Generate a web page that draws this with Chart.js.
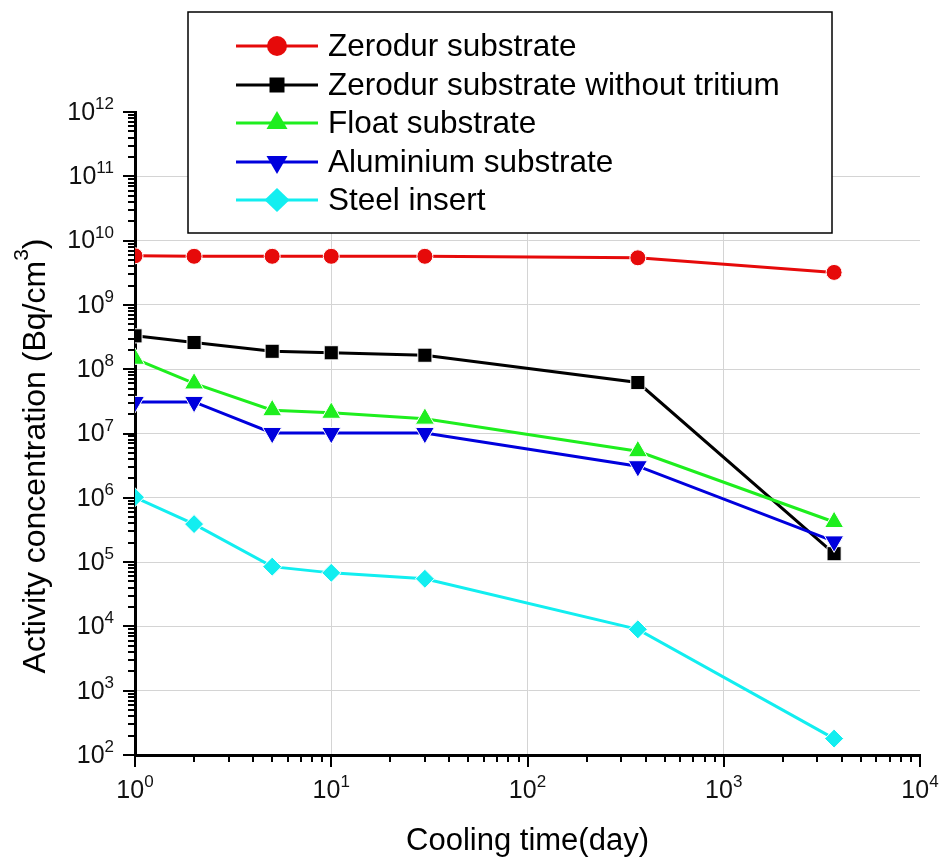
<!DOCTYPE html>
<html>
<head>
<meta charset="utf-8">
<script src="https://cdn.jsdelivr.net/npm/chart.js@4.4.1/dist/chart.umd.min.js"></script>
<style>
  html, body { margin: 0; padding: 0; background: #fff; }
  #wrap { width: 940px; height: 859px; }
</style>
</head>
<body>
<div id="wrap"><canvas id="chart" width="940" height="859"></canvas></div>
<script>
// ================================
// DATA
// ================================
var coolingDays = [1, 2, 5, 10, 30, 365, 3650];

var zerodur          = [5.8e9, 5.7e9, 5.7e9, 5.7e9, 5.7e9, 5.4e9, 3.2e9];
var zerodurNoTritium = [3.3e8, 2.6e8, 1.9e8, 1.8e8, 1.65e8, 6.2e7, 1.35e5];
var floatSubstrate   = [1.45e8, 6.0e7, 2.3e7, 2.1e7, 1.7e7, 5.3e6, 4.2e5];
var aluminium        = [3.1e7, 3.1e7, 1.02e7, 1.02e7, 1.02e7, 3.1e6, 2.1e5];
var steelInsert      = [1.02e6, 3.9e5, 8.5e4, 6.8e4, 5.5e4, 9.0e3, 1.8e2];

var seriesLabels = [
  "Zerodur substrate",
  "Zerodur substrate without tritium",
  "Float substrate",
  "Aluminium substrate",
  "Steel insert"
];

var xTickExponents = ["0", "1", "2", "3", "4"];
var yTickExponents = ["2", "3", "4", "5", "6", "7", "8", "9", "10", "11", "12"];

var FONT = "'Liberation Sans', Arial, sans-serif";

// all log ticks (1..9 x 10^k) between two exponents
function logTicks(lo, hi) {
  var out = [];
  for (var k = lo; k < hi; k++) {
    for (var m = 1; m < 10; m++) out.push(m * Math.pow(10, k));
  }
  out.push(Math.pow(10, hi));
  return out;
}
function isDecade(v) {
  var l = Math.log10(v);
  return Math.abs(l - Math.round(l)) < 1e-9;
}

// ================================
// PLUGIN: ticks, labels, y title, legend
// ================================
function drawMarker(ctx, style, x, y, s) {
  ctx.beginPath();
  if (style === "circle") {
    ctx.arc(x, y, s, 0, Math.PI * 2);
  } else if (style === "rect") {
    ctx.rect(x - s * 0.75, y - s * 0.75, s * 1.5, s * 1.5);
  } else if (style === "up") {
    ctx.moveTo(x, y - s * 1.2);
    ctx.lineTo(x + s * 1.05, y + s * 0.6);
    ctx.lineTo(x - s * 1.05, y + s * 0.6);
  } else if (style === "down") {
    ctx.moveTo(x, y + s * 1.2);
    ctx.lineTo(x + s * 1.05, y - s * 0.6);
    ctx.lineTo(x - s * 1.05, y - s * 0.6);
  } else {
    ctx.moveTo(x, y - s * 1.2);
    ctx.lineTo(x + s * 1.25, y);
    ctx.lineTo(x, y + s * 1.2);
    ctx.lineTo(x - s * 1.25, y);
  }
  ctx.closePath();
  ctx.fill();
}

var legendStyles = ["circle", "rect", "up", "down", "diamond"];

var decorPlugin = {
  id: "decor",
  afterDraw: function (chart) {
    var ctx = chart.ctx;
    var xs = chart.scales.x, ys = chart.scales.y;
    var area = chart.chartArea;
    ctx.save();

    // tick marks
    ctx.strokeStyle = "#000";
    ctx.lineWidth = 2;
    logTicks(0, 4).forEach(function (v) {
      var px = Math.round(xs.getPixelForValue(v));
      ctx.beginPath();
      ctx.moveTo(px, area.bottom);
      ctx.lineTo(px, area.bottom + (isDecade(v) ? 12 : 7));
      ctx.stroke();
    });
    logTicks(2, 12).forEach(function (v) {
      var py = Math.round(ys.getPixelForValue(v));
      ctx.beginPath();
      ctx.moveTo(area.left, py);
      ctx.lineTo(area.left - (isDecade(v) ? 12 : 7), py);
      ctx.stroke();
    });

    // tick labels 10^n
    ctx.fillStyle = "#111";
    var mainFont = "25px " + FONT, supFont = "17px " + FONT;
    xTickExponents.forEach(function (e) {
      var px = xs.getPixelForValue(Math.pow(10, +e));
      ctx.font = mainFont;
      var w1 = ctx.measureText("10").width;
      ctx.font = supFont;
      var w2 = ctx.measureText(e).width;
      var x0 = px - (w1 + w2) / 2;
      ctx.textAlign = "left";
      ctx.font = mainFont;
      ctx.textBaseline = "middle";
      ctx.fillText("10", x0, 791);
      ctx.font = supFont;
      ctx.textBaseline = "alphabetic";
      ctx.fillText(e, x0 + w1, 787);
    });
    yTickExponents.forEach(function (e) {
      var py = ys.getPixelForValue(Math.pow(10, +e));
      ctx.font = supFont;
      var w2 = ctx.measureText(e).width;
      ctx.textAlign = "right";
      ctx.textBaseline = "alphabetic";
      ctx.fillText(e, 114, py - 3);
      ctx.font = mainFont;
      ctx.textBaseline = "middle";
      ctx.fillText("10", 114 - w2, py + 1);
    });

    // y axis title with superscript
    ctx.save();
    ctx.translate(34, 456);
    ctx.rotate(-Math.PI / 2);
    var p1 = "Activity concentration (Bq/cm", sup = "3", p2 = ")";
    ctx.font = "32px " + FONT;
    var a = ctx.measureText(p1).width, c = ctx.measureText(p2).width;
    ctx.font = "21px " + FONT;
    var b = ctx.measureText(sup).width;
    var sx = -(a + b + c) / 2;
    ctx.fillStyle = "#000";
    ctx.textAlign = "left";
    ctx.textBaseline = "alphabetic";
    ctx.font = "32px " + FONT;
    ctx.fillText(p1, sx, 11);
    ctx.font = "21px " + FONT;
    ctx.fillText(sup, sx + a, -6);
    ctx.font = "32px " + FONT;
    ctx.fillText(p2, sx + a + b, 11);
    ctx.restore();

    // legend box
    ctx.fillStyle = "#fff";
    ctx.fillRect(188, 12, 644, 221);
    ctx.strokeStyle = "#000";
    ctx.lineWidth = 1.5;
    ctx.strokeRect(188, 12, 644, 221);
    var rows = [46, 85, 123, 162, 200];
    chart.data.datasets.forEach(function (ds, i) {
      var y = rows[i];
      ctx.strokeStyle = ds.borderColor;
      ctx.lineWidth = 3;
      ctx.beginPath();
      ctx.moveTo(236, y);
      ctx.lineTo(318, y);
      ctx.stroke();
      ctx.fillStyle = ds.borderColor;
      drawMarker(ctx, legendStyles[i], 277, y, 10);
      ctx.fillStyle = "#000";
      ctx.font = "31.5px " + FONT;
      ctx.textAlign = "left";
      ctx.textBaseline = "middle";
      ctx.fillText(ds.label, 328, y + 1);
    });

    ctx.restore();
  }
};

// ================================
// CHART
// ================================
var colors = ["#e60a0a", "#000000", "#1eee1e", "#0000dd", "#12eef0"];
var values = [zerodur, zerodurNoTritium, floatSubstrate, aluminium, steelInsert];
var styles = ["circle", "rect", "triangle", "triangle", "rectRot"];
var rotations = [0, 0, 0, 180, 0];
var radii = [8, 10, 11, 11, 9.5];

var datasets = values.map(function (vals, i) {
  return {
    label: seriesLabels[i],
    data: coolingDays.map(function (d, j) { return { x: d, y: vals[j] }; }),
    borderColor: colors[i],
    backgroundColor: colors[i],
    borderWidth: 3,
    pointStyle: styles[i],
    pointRotation: rotations[i],
    pointRadius: radii[i],
    pointHoverRadius: radii[i],
    pointBackgroundColor: colors[i],
    pointBorderColor: "#fff",
    pointBorderWidth: 1,
    tension: 0,
    order: 5 - i
  };
});

function gridColor(c) {
  var v = c.tick && c.tick.value;
  if (!v || !isDecade(v)) return "rgba(0,0,0,0)";
  return "#d4d4d4";
}

new Chart(document.getElementById("chart").getContext("2d"), {
  type: "line",
  data: { datasets: datasets },
  options: {
    responsive: false,
    animation: false,
    layout: { padding: { top: 112, right: 20, left: 0, bottom: 0 } },
    plugins: { legend: { display: false }, tooltip: { enabled: false } },
    scales: {
      x: {
        type: "logarithmic",
        min: 1,
        max: 10000,
        afterBuildTicks: function (s) {
          s.ticks = logTicks(0, 4).map(function (v) { return { value: v }; });
        },
        afterFit: function (s) { s.height = 104; },
        ticks: { display: false, autoSkip: false },
        grid: {
          color: function (c) { return c.tick && c.tick.value >= 10000 ? "rgba(0,0,0,0)" : gridColor(c); },
          drawTicks: false
        },
        border: { color: "#000", width: 3 },
        title: {
          display: true,
          text: "Cooling time(day)",
          color: "#000",
          font: { family: FONT, size: 31, lineHeight: 1.15 },
          padding: { top: 0, bottom: 0 }
        }
      },
      y: {
        type: "logarithmic",
        min: 1e2,
        max: 1e12,
        afterBuildTicks: function (s) {
          s.ticks = logTicks(2, 12).map(function (v) { return { value: v }; });
        },
        afterFit: function (s) { s.width = 135; },
        ticks: { display: false, autoSkip: false },
        grid: {
          color: function (c) { return c.tick && c.tick.value >= 1e12 ? "rgba(0,0,0,0)" : gridColor(c); },
          drawTicks: false
        },
        border: { color: "#000", width: 3 }
      }
    }
  },
  plugins: [decorPlugin]
});
</script>
</body>
</html>
